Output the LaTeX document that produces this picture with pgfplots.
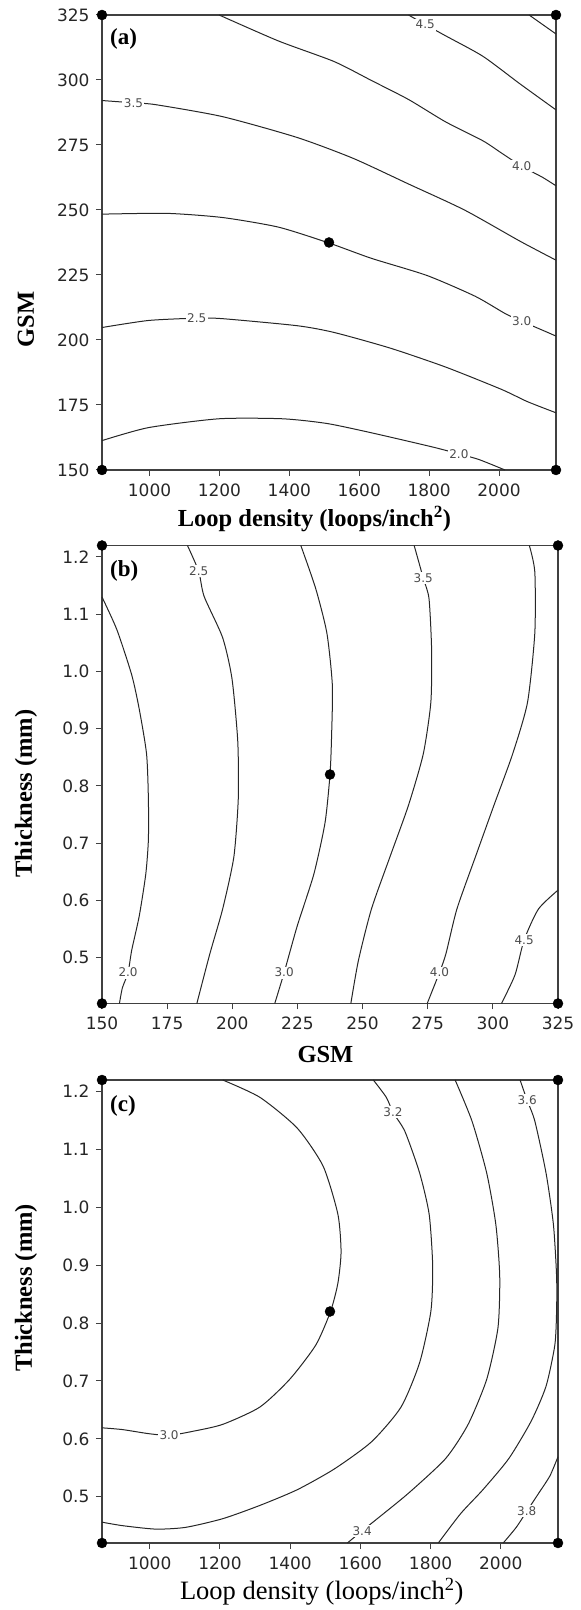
\documentclass[border=0pt]{standalone}
\usepackage{pgfplots}
\pgfplotsset{compat=1.18}
\usepackage{fontspec}
\setmainfont{Liberation Serif}
\newfontfamily\tickfont{DejaVu Sans}
\newcommand{\labfont}{\tickfont\fontsize{12}{14}\selectfont}
\newcommand{\axlabfont}{\bfseries\fontsize{24.5}{28}\selectfont}
\pgfplotsset{
 panel/.style={scale only axis, clip=false,
   axis line style={black!75, line width=1.5pt},
   tick align=outside, major tick length=6pt, tick style={black!75, line width=1pt},
   xtick pos=left, ytick pos=left,
   ticklabel style={font=\tickfont\fontsize{17}{20}\selectfont, text=black!85},
   xticklabel style={yshift=-4pt},
   yticklabel style={xshift=-3pt},
   /pgf/number format/assume math mode=true,
   /pgf/number format/1000 sep={},
 },
 cont/.style={smooth, tension=0.4, no marks, line width=1pt, color=black!85},
 labs/.style={only marks, mark=none, point meta=explicit symbolic, nodes near coords,
   every node near coord/.append style={anchor=center, fill=white, inner sep=1.5pt, font=\labfont, text=black!70}},
 dots/.style={only marks, mark=*, mark size=5pt, color=black},
}
\begin{document}
\begin{tikzpicture}
\path[use as bounding box] (0pt,0pt) rectangle (581pt,1610pt);
% ---------------- (a)
\begin{axis}[panel, at={(102pt,1140pt)}, anchor=south west, width=454pt, height=455pt,
  xmin=864, xmax=2163, ymin=150, ymax=325,
  xtick={1000,1200,1400,1600,1800,2000}, ytick={150,175,200,225,250,275,300,325},
  xlabel={Loop density (loops/inch\textsuperscript{2})}, ylabel={GSM},
  xlabel style={at={(axis description cs:0.468,0)}, anchor=center, yshift=-49pt, font=\axlabfont},
  ylabel style={at={(axis description cs:0,0.331)}, anchor=center, yshift=76pt, font=\axlabfont}]
\addplot[cont] coordinates {(864,161.3) (997,166.3) (1199,169.7) (1380,169.7) (1507,167.9) (1635,164.3) (1805,159.0) (1885,156.2) (1943,154) (2017,150)};
\addplot[cont] coordinates {(864,204.8) (997,207.5) (1135,208.4) (1209,208.2) (1422,205.5) (1528,202.9) (1688,196.9) (1847,189.6) (2007,181) (2081,176.3) (2163,172)};
\addplot[cont] coordinates {(864,248.4) (1050,248.7) (1209,247.1) (1369,243.4) (1513.5,237.3) (1635,231.4) (1794,224.8) (1932,216.8) (2017,210.2) (2065,207.2) (2129,203.5) (2163,201.5)};
\addplot[cont] coordinates {(864,292.1) (954,291.2) (1018,290.5) (1209,285.9) (1422,277.9) (1582,269.9) (1741,260) (1901,250) (2060,238) (2163,230.7)};
\addplot[cont] coordinates {(1199,325) (1369,315) (1528,307.1) (1635,299.8) (1741,292.5) (1847,283.9) (1954,276.6) (2007,271.9) (2065,266.8) (2124,262.6) (2163,259.3)};
\addplot[cont] coordinates {(1741,325) (1789,321.3) (1847,317) (1954,309.1) (2060,298.5) (2163,288.5)};
\addplot[cont] coordinates {(2086,325) (2163,317.7)};
\addplot[labs] table[meta=l, row sep=\\] {x y l\\ 1885 156.2 2.0\\ 1135 208.3 2.5\\ 2065 207.2 3.0\\ 954 291.2 3.5\\ 2065 266.8 4.0\\ 1789 321.3 4.5\\};
\addplot[dots] coordinates {(864,150) (2163,150) (864,325) (2163,325) (1513.5,237.5)};
\node[anchor=north west, inner sep=0pt, font=\bfseries\fontsize{23}{26}\selectfont] at (rel axis cs:0,1) [xshift=8pt, yshift=-13pt] {(a)};
\end{axis}
% ---------------- (b)
\begin{axis}[panel, at={(102pt,606.5pt)}, anchor=south west, width=456pt, height=458pt,
  xmin=150, xmax=325, ymin=0.42, ymax=1.22,
  xtick={150,175,200,225,250,275,300,325}, ytick={0.5,0.6,0.7,0.8,0.9,1.0,1.1,1.2},
  yticklabel style={/pgf/number format/.cd, fixed, fixed zerofill, precision=1},
  xlabel={GSM}, ylabel={Thickness (mm)},
  xlabel style={at={(axis description cs:0.49,0)}, anchor=center, yshift=-51pt, font=\axlabfont},
  ylabel style={at={(axis description cs:0,0.4585)}, anchor=center, yshift=76pt, font=\axlabfont}]
\addplot[cont] coordinates {(150,1.130) (155.7,1.073) (161.4,0.994) (164.3,0.934) (167.1,0.856) (167.8,0.778) (167.8,0.706) (166.8,0.646) (164.3,0.573) (161.4,0.513) (160,0.474) (157.8,0.447) (156.7,0.42)};
\addplot[cont] coordinates {(182.8,1.22) (187.1,1.175) (189.2,1.131) (196.3,1.059) (199.9,0.987) (202.1,0.878) (202.3,0.778) (200.6,0.676) (196.3,0.585) (191.4,0.507) (186.4,0.42)};
\addplot[cont] coordinates {(226.3,1.22) (232,1.145) (236.3,1.067) (238.4,0.976) (238.1,0.886) (237.5,0.82) (235.6,0.736) (231.3,0.646) (224.9,0.555) (219.9,0.474) (216.3,0.42)};
\addplot[cont] coordinates {(269.8,1.22) (273.3,1.163) (275.5,1.127) (276.5,1.037) (276.2,0.946) (273.3,0.856) (267.6,0.766) (260.5,0.676) (253.4,0.585) (248.4,0.495) (245.5,0.42)};
\addplot[cont] coordinates {(314,1.22) (316.1,1.174) (316.1,1.067) (313.3,0.946) (307.6,0.856) (300.4,0.766) (293.3,0.676) (286.2,0.585) (282,0.507) (279.5,0.474) (274.8,0.42)};
\addplot[cont] coordinates {(303.3,0.42) (308.5,0.47) (312,0.531) (317.5,0.585) (325,0.618)};
\addplot[labs] table[meta=l, row sep=\\] {x y l\\ 160 0.474 2.0\\ 187.1 1.175 2.5\\ 219.9 0.474 3.0\\ 273.3 1.163 3.5\\ 279.5 0.474 4.0\\ 312 0.531 4.5\\};
\addplot[dots] coordinates {(150,0.42) (325,0.42) (150,1.22) (325,1.22) (237.5,0.82)};
\node[anchor=north west, inner sep=0pt, font=\bfseries\fontsize{23}{26}\selectfont] at (rel axis cs:0,1) [xshift=8pt, yshift=-15pt] {(b)};
\end{axis}
% ---------------- (c)
\begin{axis}[panel, at={(102pt,67pt)}, anchor=south west, width=456pt, height=463pt,
  xmin=864, xmax=2163, ymin=0.42, ymax=1.22,
  xtick={1000,1200,1400,1600,1800,2000}, ytick={0.5,0.6,0.7,0.8,0.9,1.0,1.1,1.2},
  yticklabel style={/pgf/number format/.cd, fixed, fixed zerofill, precision=1},
  xlabel={Loop density (loops/inch\textsuperscript{2})}, ylabel={Thickness (mm)},
  xlabel style={at={(axis description cs:0.482,0)}, anchor=center, yshift=-49pt, font=\fontsize{26.5}{30}\selectfont},
  ylabel style={at={(axis description cs:0,0.551)}, anchor=center, yshift=76pt, font=\axlabfont}]
\addplot[cont] coordinates {(1208,1.22) (1314,1.19) (1420,1.137) (1494,1.071) (1536,0.988) (1545,0.923) (1536,0.869) (1515,0.82) (1473,0.762) (1399,0.703) (1314,0.655) (1208,0.625) (1123,0.613) (1055,0.606) (996,0.609) (922,0.616) (864,0.619)};
\addplot[cont] coordinates {(1637,1.22) (1674,1.19) (1693,1.164) (1727,1.131) (1769,1.059) (1796,0.988) (1806,0.899) (1801,0.821) (1769,0.732) (1716,0.655) (1632,0.595) (1526,0.548) (1420,0.512) (1314,0.485) (1208,0.462) (1102,0.447) (1017,0.444) (922,0.45) (864,0.456)};
\addplot[cont] coordinates {(1870,1.22) (1918,1.149) (1960,1.059) (1986,0.97) (1997,0.881) (1992,0.792) (1960,0.703) (1907,0.625) (1843,0.566) (1737,0.506) (1642,0.459) (1605,0.441) (1563,0.42)};
\addplot[cont] coordinates {(2055,1.22) (2075,1.185) (2097,1.149) (2129,1.059) (2150,0.97) (2159,0.881) (2159,0.821) (2154,0.762) (2129,0.691) (2087,0.631) (2023,0.566) (1949,0.512) (1886,0.471) (1822,0.42)};
\addplot[cont] coordinates {(2007,0.42) (2044,0.447) (2074,0.4747) (2108,0.506) (2140,0.536) (2163,0.569)};
\addplot[labs] table[meta=l, row sep=\\] {x y l\\ 1055 0.606 3.0\\ 1693 1.164 3.2\\ 1605 0.441 3.4\\ 2075 1.185 3.6\\ 2074 0.4747 3.8\\};
\addplot[dots] coordinates {(864,0.42) (2163,0.42) (864,1.22) (2163,1.22) (1513.5,0.82)};
\node[anchor=north west, inner sep=0pt, font=\bfseries\fontsize{23}{26}\selectfont] at (rel axis cs:0,1) [xshift=8pt, yshift=-15pt] {(c)};
\end{axis}
\end{tikzpicture}
\end{document}
